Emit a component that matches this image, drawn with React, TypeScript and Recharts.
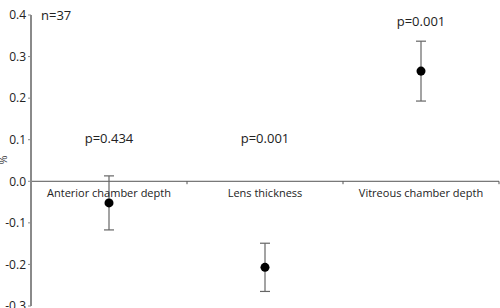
import { ScatterChart, Scatter, XAxis, YAxis, ZAxis, ErrorBar, ReferenceLine, ReferenceDot, LabelList } from "recharts";

const categories = ["Anterior chamber depth", "Lens thickness", "Vitreous chamber depth"];
const means = [-0.052, -0.207, 0.265];
const errors = [0.065, 0.058, 0.072];
const pLabels = ["p=0.434", "p=0.001", "p=0.001"];
const pLabelY = [0.104, 0.104, 0.386];
const yTicks = [-0.3, -0.2, -0.1, 0, 0.1, 0.2, 0.3, 0.4];
const sampleLabel = "n=37";

const FONT = "'Open Sans', sans-serif";

const points = categories.map((c, i) => ({ x: i + 0.5, y: means[i], err: errors[i], name: c }));
const catLabels = categories.map((c, i) => ({ x: i + 0.5, y: 0, name: c }));
const pTexts = pLabels.map((p, i) => ({ x: i + 0.5, y: pLabelY[i], name: p }));

const Empty = () => <g />;

// plain single-line text centred on the point (no wrapping)
const makeLabel = (dy: number, size: number) => (props: any) => {
  const { x, y, width, height, value } = props;
  const cx = x + (width || 0) / 2;
  const cy = y + (height || 0) / 2;
  return (
    <text x={cx} y={cy + dy} textAnchor="middle" dominantBaseline="central" fill="#222" fontSize={size} fontFamily={FONT}>
      {value}
    </text>
  );
};

export default function App() {
  return (
    <div style={{ position: "absolute", left: 0, top: 0, background: "#fff" }}>
      <ScatterChart width={500} height={308} margin={{ top: 15, right: 1, bottom: 2, left: 0 }}>
        <XAxis type="number" dataKey="x" domain={[0, 3]} hide />
        <YAxis
          type="number"
          dataKey="y"
          domain={[-0.3, 0.4]}
          ticks={yTicks}
          interval={0}
          width={31}
          tickFormatter={(v: number) => v.toFixed(1)}
          axisLine={{ stroke: "#8a8a8a", strokeWidth: 2 }}
          tickLine={{ stroke: "#8a8a8a" }}
          tickSize={3}
          tick={{ fill: "#222", fontSize: 12, fontFamily: FONT }}
          label={{ value: "%", angle: -90, position: "insideLeft", offset: 3, dy: 4, fill: "#333", fontSize: 11, fontFamily: FONT }}
        />
        <ZAxis range={[70, 70]} />
        <ReferenceLine y={0} stroke="#555" strokeWidth={1} />
        {[1, 2, 3].map((b) => (
          <ReferenceLine key={b} segment={[{ x: b, y: 0 }, { x: b, y: -0.007 }]} stroke="#555" />
        ))}
        <ReferenceDot
          x={0}
          y={0.4}
          r={0}
          stroke="none"
          label={{ value: sampleLabel, position: "right", offset: 10, fill: "#222", fontSize: 13, fontFamily: FONT }}
        />
        <Scatter data={catLabels} shape={<Empty />} isAnimationActive={false}>
          <LabelList dataKey="name" content={makeLabel(11, 11)} />
        </Scatter>
        <Scatter data={pTexts} shape={<Empty />} isAnimationActive={false}>
          <LabelList dataKey="name" content={makeLabel(0, 13)} />
        </Scatter>
        <Scatter data={points} fill="#000" isAnimationActive={false}>
          <ErrorBar dataKey="err" direction="y" width={5} stroke="#666" strokeWidth={1.2} />
        </Scatter>
      </ScatterChart>
    </div>
  );
}
